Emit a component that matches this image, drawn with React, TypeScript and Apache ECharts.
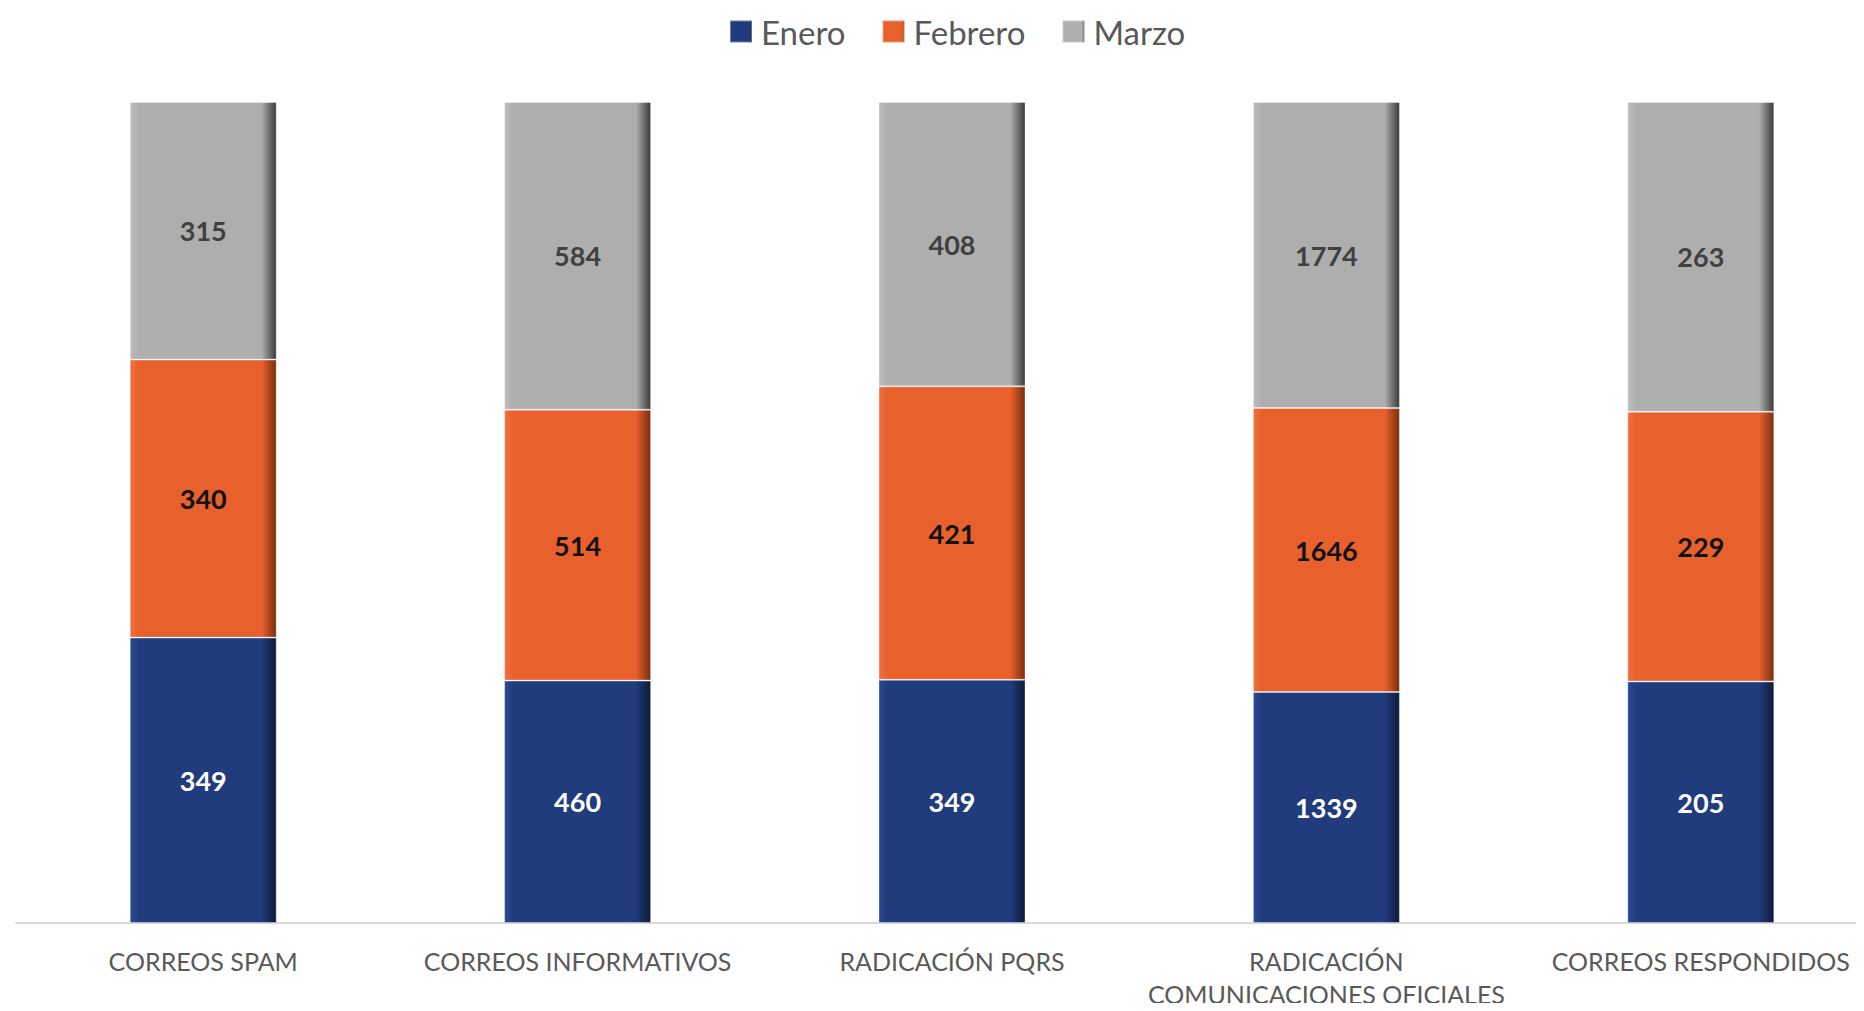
import React, { useEffect, useRef } from "react";
import * as echarts from "echarts";

const categories = [
  "CORREOS SPAM",
  "CORREOS INFORMATIVOS",
  "RADICACIÓN PQRS",
  "RADICACIÓN\nCOMUNICACIONES OFICIALES",
  "CORREOS RESPONDIDOS",
];
const seriesNames = ["Enero", "Febrero", "Marzo"];
const enero = [349, 460, 349, 1339, 205];
const febrero = [340, 514, 421, 1646, 229];
const marzo = [315, 584, 408, 1774, 263];

const colors = ["#203C7C", "#E8602C", "#AEAEAE"];
const darks = ["#0E1A38", "#7A2E10", "#3A3A3A"];
const lights = ["#2A4A92", "#F07040", "#BDBDBD"];
const labelColors = ["#FFFFFF", "#111111", "#404040"];

export default function App() {
  const ref = useRef<HTMLDivElement>(null);
  useEffect(() => {
    if (!ref.current) return;
    const chart = echarts.init(ref.current, undefined, { renderer: "svg" });
    const raw = [enero, febrero, marzo];
    const totals = categories.map((_, i) => enero[i] + febrero[i] + marzo[i]);
    const series = raw.map((vals, s) => ({
      name: seriesNames[s],
      type: "bar",
      stack: "total",
      barWidth: 147,
      data: vals.map((v, i) => ({ value: (v / totals[i]) * 100, raw: v })),
      itemStyle: {
        color: new echarts.graphic.LinearGradient(0, 0, 1, 0, [
          { offset: 0, color: lights[s] },
          { offset: 0.06, color: colors[s] },
          { offset: 0.9, color: colors[s] },
          { offset: 1, color: darks[s] },
        ]),
        borderColor: "rgba(255,255,255,0.35)",
        borderWidth: 1,
      },
      label: {
        show: true,
        position: "inside",
        formatter: (p: any) => String(p.data.raw),
        color: labelColors[s],
        fontFamily: "Lato",
        fontWeight: "bold",
        fontSize: 27,
      },
    }));
    chart.setOption({
      animation: false,
      backgroundColor: "#FFFFFF",
      color: colors,
      legend: {
        data: seriesNames,
        left: 724,
        top: 10,
        itemWidth: 22,
        itemHeight: 22,
        itemGap: 36,
        icon: "rect",
        textStyle: {
          fontFamily: "Lato",
          fontSize: 33,
          color: "#595959",
          padding: [0, 0, 0, 4],
        },
      },
      grid: {
        left: 16,
        width: 1872,
        top: 102,
        bottom: 88,
        containLabel: false,
        outerBoundsMode: "none",
      },
      xAxis: {
        type: "category",
        data: categories,
        axisLine: { show: true, lineStyle: { color: "#D9D9D9", width: 2 } },
        axisTick: { show: false },
        axisLabel: {
          fontFamily: "Lato",
          fontSize: 25,
          color: "#595959",
          lineHeight: 33,
          margin: 21,
          interval: 0,
        },
      },
      yAxis: {
        type: "value",
        min: 0,
        max: 100,
        show: false,
        splitLine: { show: false },
      },
      series,
    });
    return () => chart.dispose();
  }, []);
  return <div ref={ref} style={{ width: 1864, height: 1011, margin: -8 }} />;
}
